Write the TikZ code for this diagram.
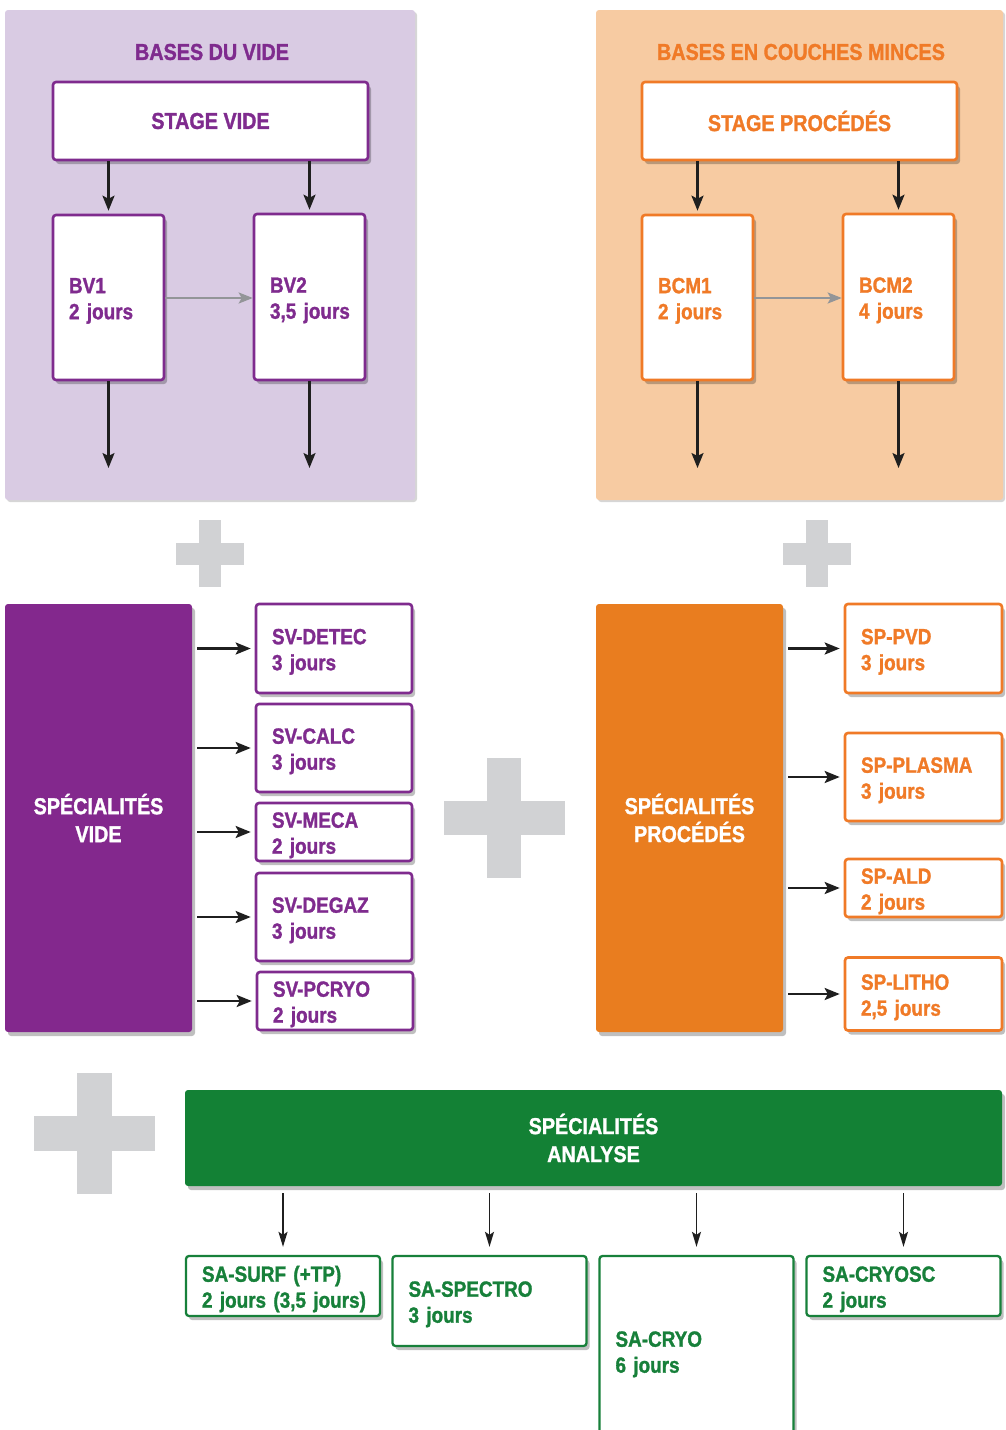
\documentclass[tikz,border=0pt]{standalone}
\usepackage{fontspec}
\setmainfont{Liberation Sans}[UprightFont={Liberation Sans Bold},BoldFont={Liberation Sans Bold},FakeStretch=0.86,FakeBold=1.3]
\usetikzlibrary{arrows.meta,shadows}
\definecolor{vpurple}{HTML}{7F2B8E}
\definecolor{vpurplebg}{HTML}{D9CBE3}
\definecolor{vpurplefill}{HTML}{83288D}
\definecolor{vorange}{HTML}{F07A27}
\definecolor{vorangebg}{HTML}{F7CBA2}
\definecolor{vorangefill}{HTML}{E97D1F}
\definecolor{vgreen}{HTML}{17803A}
\definecolor{vgreenfill}{HTML}{138135}
\definecolor{plusgray}{HTML}{D1D2D4}
\definecolor{arrgray}{HTML}{939598}
\begin{document}
\begin{tikzpicture}[x=1pt,y=-1pt,
  shad/.style={drop shadow={shadow xshift=3pt,shadow yshift=-4pt,opacity=0.25,fill=black}},
  panel/.style={rounded corners=3pt,drop shadow={shadow xshift=2pt,shadow yshift=-2pt,opacity=0.16,fill=black}},
  title/.style={font=\fontsize{23}{27}\selectfont\bfseries},
  wbox/.style={draw,line width=2.6pt,fill=white,rounded corners=3pt,shad,inner xsep=16pt,inner ysep=0pt,
     align=left,font=\fontsize{22}{26}\selectfont\bfseries,execute at begin node={\rule{0pt}{22pt}}},
  stagebox/.style={draw,line width=2.6pt,fill=white,rounded corners=3pt,shad,align=center,
     font=\fontsize{23}{27}\selectfont\bfseries},
  bigbox/.style={rounded corners=3pt,shad,text=white,align=center,inner sep=0pt,
     font=\fontsize{23}{28}\selectfont\bfseries},
  pbox/.style={wbox,draw=vpurple,text=vpurple},
  obox/.style={wbox,draw=vorange,text=vorange},
  gbox/.style={wbox,draw=vgreen,text=vgreen,line width=2.3pt,text width=162pt},
  arr/.style={-{Stealth[length=15pt,width=12pt,inset=3pt]},line width=2.2pt,black!88},
  garr/.style={-{Stealth[length=15pt,width=9pt,inset=3pt]},line width=1.6pt,black!88},
  grarr/.style={-{Stealth[length=14pt,width=11pt,inset=3pt]},line width=2.4pt,arrgray},
  plusshape/.style={fill=plusgray}
]
\useasboundingbox (0,0) rectangle (1005,1430);

% ---------- Panels ----------
\fill[vpurplebg,panel] (5,10) rectangle (415,500);
\fill[vorangebg,panel] (596,10) rectangle (1003,500);

% ---------- Bases du vide ----------
\node[title,text=vpurple] (tv) at (212,52) {BASES DU VIDE};
\node[stagebox,draw=vpurple,text=vpurple,minimum width=315pt,minimum height=78pt] (stv) at (210.5,121) {STAGE VIDE};
\node[pbox,text width=79pt,minimum height=165pt] (bv1) at (108.5,297.5) {BV1\\2~jours};
\node[pbox,text width=79pt,minimum height=166pt] (bv2) at (309.5,297) {BV2\\3,5~jours};
\coordinate (bv1d) at (108.5,468);
\coordinate (bv2d) at (309.5,468);
\draw[arr,shorten >=3pt] (bv1.north |- stv.south) -- (bv1.north);
\draw[arr,shorten >=3pt] (bv2.north |- stv.south) -- (bv2.north);
\draw[grarr] (bv1.east |- 0,298) -- (bv2.west |- 0,298);
\draw[arr] (bv1.south) -- (bv1d);
\draw[arr] (bv2.south) -- (bv2d);

% ---------- Bases en couches minces ----------
\node[title,text=vorange] (tc) at (801,52) {BASES EN COUCHES MINCES};
\node[stagebox,draw=vorange,text=vorange,minimum width=315pt,minimum height=78pt] (stp) at (799.5,121) {STAGE PROCÉDÉS};
\node[obox,text width=79pt,minimum height=165pt] (bcm1) at (697.5,297.5) {BCM1\\2~jours};
\node[obox,text width=79pt,minimum height=166pt] (bcm2) at (898.5,297) {BCM2\\4~jours};
\coordinate (bcm1d) at (697.5,468);
\coordinate (bcm2d) at (898.5,468);
\draw[arr,shorten >=3pt] (bcm1.north |- stp.south) -- (bcm1.north);
\draw[arr,shorten >=3pt] (bcm2.north |- stp.south) -- (bcm2.north);
\draw[grarr] (bcm1.east |- 0,298) -- (bcm2.west |- 0,298);
\draw[arr] (bcm1.south) -- (bcm1d);
\draw[arr] (bcm2.south) -- (bcm2d);

% ---------- Plus signs ----------
\fill[plusshape] (199,520) rectangle (221,587);
\fill[plusshape] (176,543) rectangle (244,565);
\fill[plusshape] (806,520) rectangle (828,587);
\fill[plusshape] (783,543) rectangle (851,565);
\fill[plusshape] (487,758) rectangle (521,878);
\fill[plusshape] (444,801) rectangle (565,835);
\fill[plusshape] (77,1073) rectangle (112,1194);
\fill[plusshape] (34,1116) rectangle (155,1151);

% ---------- Specialites vide ----------
\node[bigbox,fill=vpurplefill,minimum width=187pt,minimum height=428pt] (spv) at (98.5,818) {SPÉCIALITÉS\\VIDE};
\node[pbox,text width=124pt,minimum height=89pt] (svdetec) at (334,648.5) {SV-DETEC\\3~jours};
\node[pbox,text width=124pt,minimum height=88pt] (svcalc) at (334,748) {SV-CALC\\3~jours};
\node[pbox,text width=124pt,minimum height=58pt] (svmeca) at (334,832) {SV-MECA\\2~jours};
\node[pbox,text width=124pt,minimum height=88pt] (svdegaz) at (334,917) {SV-DEGAZ\\3~jours};
\node[pbox,text width=124pt,minimum height=58pt] (svpcryo) at (335,1001) {SV-PCRYO\\2~jours};
\foreach \n in {svdetec,svcalc,svmeca,svdegaz,svpcryo}
  \draw[arr,shorten <=5pt,shorten >=4pt] (spv.east |- \n.west) -- (\n.west);

% ---------- Specialites procedes ----------
\node[bigbox,fill=vorangefill,minimum width=187pt,minimum height=428pt] (spp) at (689.5,818) {SPÉCIALITÉS\\PROCÉDÉS};
\node[obox,text width=125pt,minimum height=89pt] (sppvd) at (923.5,648.5) {SP-PVD\\3~jours};
\node[obox,text width=125pt,minimum height=88pt] (spplasma) at (923.5,777) {SP-PLASMA\\3~jours};
\node[obox,text width=125pt,minimum height=58pt] (spald) at (923.5,888) {SP-ALD\\2~jours};
\node[obox,text width=125pt,minimum height=73pt] (splitho) at (923.5,994) {SP-LITHO\\2,5~jours};
\foreach \n in {sppvd,spplasma,spald,splitho}
  \draw[arr,shorten <=5pt,shorten >=4pt] (spp.east |- \n.west) -- (\n.west);

% ---------- Specialites analyse ----------
\node[bigbox,fill=vgreenfill,minimum width=817pt,minimum height=96pt] (spa) at (593.5,1138) {SPÉCIALITÉS\\ANALYSE};
\node[gbox,minimum height=60pt] (sasurf) at (283,1286) {SA-SURF~(+TP)\\2~jours~(3,5~jours)};
\node[gbox,minimum height=90pt] (saspectro) at (489.5,1301) {SA-SPECTRO\\3~jours};
\node[gbox,minimum height=190pt] (sacryo) at (696.5,1351) {SA-CRYO\\6~jours};
\node[gbox,minimum height=60pt] (sacryosc) at (903.5,1286) {SA-CRYOSC\\2~jours};
\foreach \n in {sasurf,saspectro,sacryo,sacryosc}
  \draw[garr,shorten <=7pt,shorten >=8pt] (\n.north |- spa.south) -- (\n.north);
\end{tikzpicture}
\end{document}
